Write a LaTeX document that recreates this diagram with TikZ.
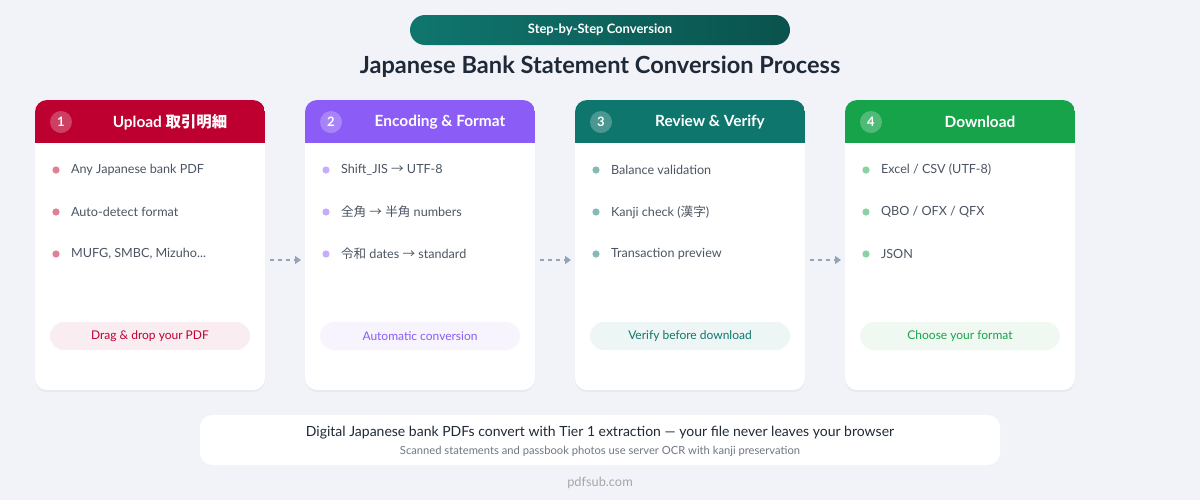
\documentclass[tikz,border=0pt]{standalone}
\usepackage{fontspec}
\setmainfont{Lato}
\newfontfamily\cjk{Noto Sans CJK JP}
\usetikzlibrary{positioning, arrows.meta, shadows}
\definecolor{mybgcolor}{HTML}{F1F3F8}
\definecolor{txtcolor}{HTML}{1F2937}
\definecolor{subcolor}{HTML}{4B5563}
\definecolor{arrowc}{HTML}{94A3B8}
\definecolor{redc}{HTML}{BE0030}
\definecolor{purplec}{HTML}{8B5CF6}
\definecolor{tealc}{HTML}{0F766E}
\definecolor{greenc}{HTML}{16A34A}
\newcommand{\ja}[1]{{\cjk #1}}
\newcommand{\ar}{{\cjk →}}

\begin{document}
\begin{tikzpicture}[
  x=0.5pt, y=-0.5pt,
  card/.style={
    fill=white,
    rounded corners=6pt,
    drop shadow={opacity=0.08, shadow xshift=0pt, shadow yshift=-1pt},
  },
  step_num/.style={
    circle,
    fill=white,
    fill opacity=0.25,
    text opacity=1,
    text=white,
    minimum size=11pt,
    inner sep=0pt,
    font=\bfseries\fontsize{6.5}{7}\selectfont,
  },
  head_text/.style={
    text=white,
    font=\bfseries\fontsize{7.7}{9}\selectfont,
  },
  item/.style={
    anchor=west,
    text=subcolor,
    font=\fontsize{6.3}{7}\selectfont,
  },
  tag/.style={
    rounded corners=7pt,
    minimum width=100pt,
    minimum height=14pt,
    inner sep=0pt,
    font=\fontsize{6}{7}\selectfont,
  },
  flow/.style={
    draw=arrowc,
    line width=0.7pt,
    dash pattern=on 2pt off 2pt,
    -{Triangle[length=3pt,width=4pt]},
  },
  ]

  \fill[mybgcolor] (0,0) rectangle (1200,500);
  \path[use as bounding box] (0,0) rectangle (1200,500);

  % banner and title
  \shade[left color=tealc, right color=tealc!70!black, rounded corners=7.5pt] (410,15) rectangle (790,45);
  \node[text=white, font=\bfseries\fontsize{6.5}{7}\selectfont] (banner) at (600,30) {Step-by-Step Conversion};
  \node[text=txtcolor, font=\bfseries\fontsize{11.8}{13}\selectfont] (title) at (600,67) {Japanese Bank Statement Conversion Process};

  % cards
  \foreach \x/\c/\n/\h/\a/\b/\d/\t in {
      35/redc/1/{Upload \ja{取引明細}}/{Any Japanese bank PDF}/{Auto-detect format}/{MUFG, SMBC, Mizuho...}/{Drag \& drop your PDF},
      305/purplec/2/{Encoding \& Format}/{Shift\_JIS \ar{} UTF-8}/{\ja{全角} \ar{} \ja{半角} numbers}/{\ja{令和} dates \ar{} standard}/{Automatic conversion},
      575/tealc/3/{Review \& Verify}/{Balance validation}/{Kanji check (\ja{漢字})}/{Transaction preview}/{Verify before download},
      845/greenc/4/{Download}/{Excel / CSV (UTF-8)}/{QBO / OFX / QFX}/{JSON}/{Choose your format}} {
    \fill[card] (\x,100) rectangle ++(230,290);
    \begin{scope}
      \clip[rounded corners=6pt] (\x,100) rectangle ++(230,290);
      \fill[\c] (\x,100) rectangle ++(230,43);
    \end{scope}
    \node[step_num] (num\n) at (\x+26,122) {\n};
    \node[head_text] (head\n) at (\x+135,122) {\h};
    \foreach \y/\s in {170/\a, 212/\b, 254/\d} {
      \fill[\c!50] (\x+21,\y) circle (1.8pt);
      \node[item] at (\x+29,\y) {\s};
    }
    \node[tag, fill=\c!7, text=\c] (tag\n) at (\x+115,336) {\t};
  }

  % arrows between cards
  \coordinate (a1) at (270,260); \coordinate (b1) at (301,260);
  \coordinate (a2) at (540,260); \coordinate (b2) at (571,260);
  \coordinate (a3) at (810,260); \coordinate (b3) at (841,260);
  \foreach \i in {1,2,3}
    \draw[flow] (a\i) -- (b\i);

  % footer note
  \fill[white, rounded corners=6pt] (200,415) rectangle (1000,465);
  \node[text=txtcolor, font=\fontsize{7}{8}\selectfont] (note) at (600,433) {Digital Japanese bank PDFs convert with Tier 1 extraction --- your file never leaves your browser};
  \node[text=subcolor!80, font=\fontsize{5.6}{6}\selectfont] (subnote) at (600,451) {Scanned statements and passbook photos use server OCR with kanji preservation};
  \node[text=gray!70, font=\fontsize{6.4}{7}\selectfont] (site) at (600,483) {pdfsub.com};

\end{tikzpicture}
\end{document}
